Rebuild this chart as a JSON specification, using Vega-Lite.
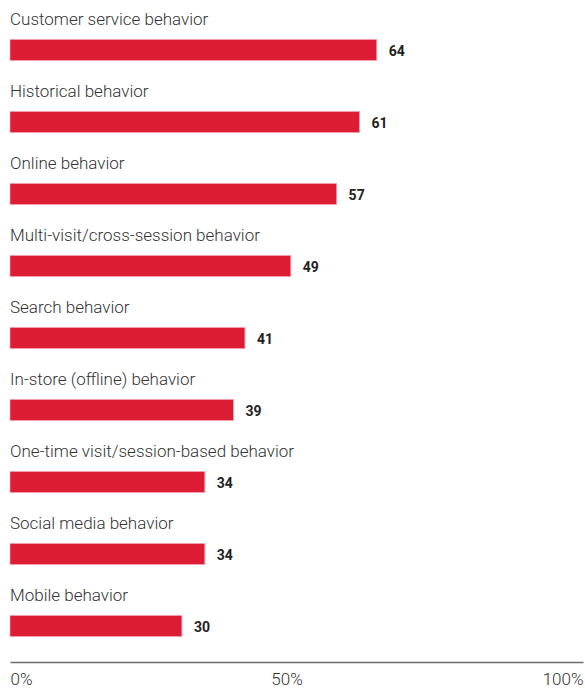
{
  "$schema": "https://vega.github.io/schema/vega-lite/v6.json",
  "width": 573,
  "height": 648,
  "autosize": {"type": "none"},
  "padding": {"left": 10, "top": 14, "right": 2, "bottom": 30},
  "background": "white",
  "config": {"view": {"stroke": null}},
  "data": {"values": [
    {"behavior": "Customer service behavior", "value": 64},
    {"behavior": "Historical behavior", "value": 61},
    {"behavior": "Online behavior", "value": 57},
    {"behavior": "Multi-visit/cross-session behavior", "value": 49},
    {"behavior": "Search behavior", "value": 41},
    {"behavior": "In-store (offline) behavior", "value": 39},
    {"behavior": "One-time visit/session-based behavior", "value": 34},
    {"behavior": "Social media behavior", "value": 34},
    {"behavior": "Mobile behavior", "value": 30}
  ]},
  "encoding": {
    "y": {"field": "behavior", "type": "nominal", "sort": null, "axis": null, "scale": {"paddingInner": 0, "paddingOuter": 0}},
    "x": {"field": "value", "type": "quantitative", "scale": {"domain": [0, 100], "nice": false},
      "axis": {"values": [0, 50, 100], "labelExpr": "datum.value + '%'", "title": null, "grid": false, "ticks": false,
        "domainColor": "#6b6b6b", "domainWidth": 1.5, "labelFlush": true, "labelFont": "Roboto", "labelFontSize": 17, "labelFontWeight": 300,
        "labelColor": "#333333", "labelPadding": 9,
        "labelOffset": {"condition": {"test": "datum.value == 50", "value": -10}, "value": 0}}}
  },
  "layer": [
    {"mark": {"type": "bar", "color": "#dc1c35", "height": 21, "stroke": "#f5a0ac", "strokeWidth": 0.8}},
    {"mark": {"type": "text", "align": "left", "dx": 12, "dy": 2, "font": "Roboto", "fontSize": 14, "fontWeight": "bold", "color": "#222222"},
      "encoding": {"text": {"field": "value", "type": "quantitative"}}},
    {"mark": {"type": "text", "align": "left", "dy": -30, "font": "Roboto", "fontSize": 17, "fontWeight": 300, "color": "#333333"},
      "encoding": {"x": {"datum": 0}, "text": {"field": "behavior"}}}
  ]
}
